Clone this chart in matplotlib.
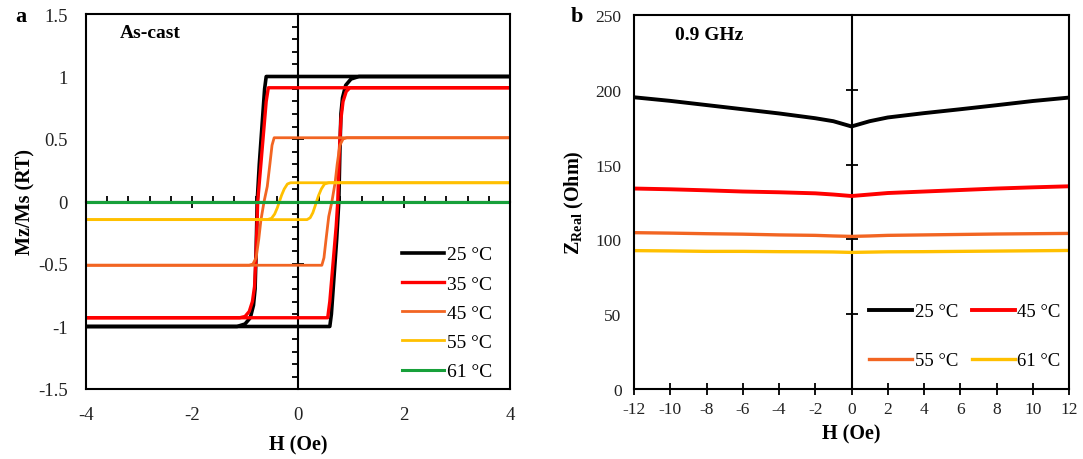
import matplotlib
matplotlib.use("Agg")
import matplotlib.pyplot as plt
from matplotlib.ticker import MultipleLocator, FuncFormatter

plt.rcParams['font.family'] = ['Liberation Serif', 'DejaVu Serif']
plt.rcParams['axes.unicode_minus'] = False
plt.rcParams['mathtext.fontset'] = 'custom'
plt.rcParams['mathtext.rm'] = 'Liberation Serif'
plt.rcParams['mathtext.bf'] = 'Liberation Serif:bold'

# ---------------- Panel a data: hysteresis loops (descending + ascending branches)
labels_a = ['25 °C', '35 °C', '45 °C', '55 °C', '61 °C']
colors_a = ['#000000', '#FF0000', '#F26522', '#FFC000', '#17A03A']
widths_a = [2.6, 2.4, 2.0, 2.0, 2.2]

h_desc_25 = [4, -0.60, -0.63, -0.68, -0.73, -0.77, -0.79, -0.81, -0.84, -0.90, -1.00, -1.15, -4]
m_desc_25 = [1.0, 1.0, 0.90, 0.60, 0.30, 0.00, -0.40, -0.70, -0.83, -0.93, -0.98, -1.0, -1.0]
h_asc_25 = [-4, 0.60, 0.63, 0.68, 0.73, 0.77, 0.79, 0.81, 0.84, 0.90, 1.00, 1.15, 4]
m_asc_25 = [-1.0, -1.0, -0.90, -0.60, -0.30, 0.00, 0.40, 0.70, 0.83, 0.93, 0.98, 1.0, 1.0]

h_desc_35 = [4, -0.56, -0.60, -0.66, -0.72, -0.76, -0.79, -0.82, -0.86, -0.92, -1.00, -1.10, -4]
m_desc_35 = [0.91, 0.91, 0.80, 0.50, 0.20, 0.00, -0.40, -0.68, -0.80, -0.88, -0.92, -0.93, -0.93]
h_asc_35 = [-4, 0.56, 0.60, 0.66, 0.72, 0.75, 0.78, 0.81, 0.85, 0.91, 0.98, 1.05, 4]
m_asc_35 = [-0.93, -0.93, -0.80, -0.50, -0.20, 0.00, 0.40, 0.66, 0.80, 0.88, 0.91, 0.91, 0.91]

h_desc_45 = [4, -0.45, -0.49, -0.53, -0.58, -0.64, -0.70, -0.74, -0.79, -0.85, -0.92, -4]
m_desc_45 = [0.51, 0.51, 0.45, 0.30, 0.12, 0.00, -0.15, -0.30, -0.45, -0.50, -0.51, -0.51]
h_asc_45 = [-4, 0.45, 0.49, 0.53, 0.58, 0.64, 0.70, 0.74, 0.79, 0.85, 0.92, 4]
m_asc_45 = [-0.51, -0.51, -0.45, -0.30, -0.12, 0.00, 0.15, 0.30, 0.45, 0.50, 0.51, 0.51]

h_desc_55 = [4, -0.14, -0.20, -0.26, -0.31, -0.35, -0.39, -0.44, -0.50, -0.58, -4]
m_desc_55 = [0.15, 0.15, 0.14, 0.10, 0.05, 0.00, -0.05, -0.10, -0.135, -0.145, -0.145]
h_asc_55 = [-4, 0.17, 0.23, 0.28, 0.32, 0.35, 0.39, 0.44, 0.50, 0.58, 4]
m_asc_55 = [-0.145, -0.145, -0.13, -0.09, -0.04, 0.00, 0.05, 0.10, 0.14, 0.15, 0.15]

h_61 = [-4, 4]
m_61 = [0.0, 0.0]

loops_a = [
    (h_desc_25, m_desc_25, h_asc_25, m_asc_25),
    (h_desc_35, m_desc_35, h_asc_35, m_asc_35),
    (h_desc_45, m_desc_45, h_asc_45, m_asc_45),
    (h_desc_55, m_desc_55, h_asc_55, m_asc_55),
    (h_61, m_61, h_61, m_61),
]
xticks_a = [-4, -2, 0, 2, 4]
yticks_a = [-1.5, -1, -0.5, 0, 0.5, 1, 1.5]

# ---------------- Panel b data: Z_real vs H at 0.9 GHz
h_b = [-12, -10, -8, -6, -4, -2, -1, 0, 1, 2, 4, 6, 8, 10, 12]
z_25 = [195.0, 192.6, 189.8, 187.0, 184.2, 181.0, 179.0, 175.5, 179.0, 181.5, 184.4, 187.0, 189.7, 192.5, 194.8]
z_45 = [134.0, 133.5, 132.8, 132.0, 131.5, 130.8, 130.0, 129.0, 130.0, 131.0, 132.0, 133.0, 134.0, 134.8, 135.5]
z_55 = [104.5, 104.2, 103.8, 103.5, 103.0, 102.7, 102.3, 102.0, 102.3, 102.7, 103.0, 103.3, 103.6, 103.8, 104.0]
z_61 = [92.5, 92.3, 92.0, 92.0, 91.8, 91.7, 91.6, 91.3, 91.5, 91.7, 91.8, 92.0, 92.2, 92.4, 92.6]
labels_b = ['25 °C', '45 °C', '55 °C', '61 °C']
colors_b = ['#000000', '#FF0000', '#F26522', '#FFC000']
widths_b = [2.8, 2.8, 2.4, 2.4]
xticks_b = list(range(-12, 13, 2))
yticks_b = [0, 50, 100, 150, 200, 250]

W, H = 1083, 460
fig = plt.figure(figsize=(W / 100, H / 100), dpi=100)
fig.patch.set_facecolor('white')

def frac(x0, y0, x1, y1):
    return [x0 / W, 1 - y1 / H, (x1 - x0) / W, (y1 - y0) / H]

fmt = FuncFormatter(lambda v, p: f'{v:g}')

# ================= Panel a
pos_a = frac(86, 15, 510, 390)
axc = fig.add_axes(pos_a, zorder=0)
axc.patch.set_visible(False)
axc.set_xlim(-4, 4)
axc.set_ylim(-1.5, 1.5)
for s in ['top', 'right']:
    axc.spines[s].set_visible(False)
axc.spines['left'].set_position(('data', 0))
axc.spines['bottom'].set_position(('data', 0))
axc.spines['left'].set_linewidth(1.5)
axc.spines['bottom'].set_linewidth(1.5)
axc.xaxis.set_major_locator(MultipleLocator(2))
axc.xaxis.set_minor_locator(MultipleLocator(0.4))
axc.yaxis.set_major_locator(MultipleLocator(0.5))
axc.yaxis.set_minor_locator(MultipleLocator(0.1))
axc.tick_params(axis='both', which='both', labelleft=False, labelbottom=False, width=1.3)
axc.tick_params(axis='x', which='major', direction='inout', length=9)
axc.tick_params(axis='x', which='minor', direction='in', length=4.5)
axc.tick_params(axis='y', which='major', direction='inout', length=9)
axc.tick_params(axis='y', which='minor', direction='out', length=4.5)

ax = fig.add_axes(pos_a, zorder=1)
ax.patch.set_visible(False)
for i, (hd, md, ha, ma) in enumerate(loops_a):
    ax.plot(hd, md, color=colors_a[i], lw=widths_a[i], label=labels_a[i], solid_joinstyle='round')
    ax.plot(ha, ma, color=colors_a[i], lw=widths_a[i], solid_joinstyle='round')
ax.set_xlim(-4, 4)
ax.set_ylim(-1.5, 1.5)
ax.set_xticks(xticks_a)
ax.set_yticks(yticks_a)
ax.xaxis.set_major_formatter(fmt)
ax.yaxis.set_major_formatter(fmt)
ax.tick_params(axis='both', length=0, labelsize=13.5, labelcolor='#222222')
ax.tick_params(axis='y', pad=13)
ax.tick_params(axis='x', pad=12)
for s in ax.spines.values():
    s.set_linewidth(1.5)
ax.set_xlabel('H (Oe)', fontsize=14.5, fontweight='bold')
ax.set_ylabel('Mz/Ms (RT)', fontsize=14.5, fontweight='bold')
ax.xaxis.set_label_coords(0.5, -0.122)
ax.yaxis.set_label_coords(-0.118, 0.5)
ax.text(0.08, 0.952, 'As-cast', transform=ax.transAxes, fontsize=14, fontweight='bold', va='center', ha='left')
leg = ax.legend(loc='lower right', bbox_to_anchor=(1.0, -0.024), frameon=False, fontsize=14,
                handlelength=2.2, handletextpad=0.15, labelspacing=0.6, borderaxespad=0.5)
fig.text(15 / W, 1 - 17 / H, 'a', fontsize=16, fontweight='bold', va='center', ha='left')

# ================= Panel b
pos_b = frac(634, 16, 1069, 390)
bxc = fig.add_axes(pos_b, zorder=0)
bxc.patch.set_visible(False)
bxc.set_xlim(-12, 12)
bxc.set_ylim(0, 250)
for s in ['top', 'right', 'bottom']:
    bxc.spines[s].set_visible(False)
bxc.spines['left'].set_position(('data', 0))
bxc.spines['left'].set_linewidth(1.5)
bxc.set_xticks([])
bxc.set_yticks([50, 100, 150, 200])
bxc.tick_params(axis='y', labelleft=False, direction='inout', length=8, width=1.3)

bx = fig.add_axes(pos_b, zorder=1)
bx.patch.set_visible(False)
for yv, c, lw, lab in zip([z_25, z_45, z_55, z_61], colors_b, widths_b, labels_b):
    bx.plot(h_b, yv, color=c, lw=lw, label=lab, solid_joinstyle='round')
bx.set_xlim(-12, 12)
bx.set_ylim(0, 250)
bx.set_xticks(xticks_b)
bx.set_yticks(yticks_b)
bx.xaxis.set_major_formatter(fmt)
bx.tick_params(axis='y', length=0, labelsize=12.5, labelcolor='#222222', pad=9)
bx.tick_params(axis='x', direction='inout', length=8, width=1.3, labelsize=12.5, labelcolor='#222222', pad=5)
for s in bx.spines.values():
    s.set_linewidth(1.5)
bx.set_xlabel('H (Oe)', fontsize=14.5, fontweight='bold')
bx.set_ylabel(r'Z$_{\mathbf{Real}}$ (Ohm)', fontsize=14.5, fontweight='bold')
bx.xaxis.set_label_coords(0.5, -0.092)
bx.yaxis.set_label_coords(-0.110, 0.5)
bx.text(0.094, 0.949, '0.9 GHz', transform=bx.transAxes, fontsize=14, fontweight='bold', va='center', ha='left')
hs, ls = bx.get_legend_handles_labels()
order = [0, 2, 1, 3]
bx.legend([hs[i] for i in order], [ls[i] for i in order], ncol=2, loc='lower right',
          bbox_to_anchor=(1.02, 0.008), frameon=False, fontsize=13.5, handlelength=2.3,
          handletextpad=0.12, labelspacing=1.7, columnspacing=0.75, borderaxespad=0.5)
fig.text(571 / W, 1 - 17 / H, 'b', fontsize=16, fontweight='bold', va='center', ha='left')

fig.savefig('out.png', dpi=100, facecolor='white')
